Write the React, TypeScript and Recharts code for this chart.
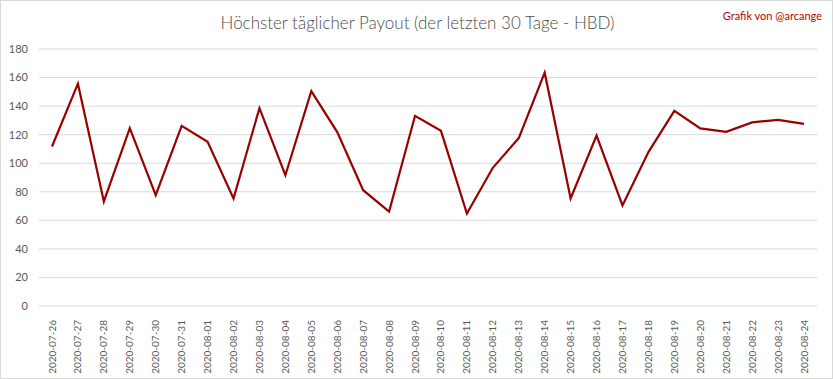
import { LineChart, Line, XAxis, YAxis, CartesianGrid } from 'recharts'

const dates = [
  '2020-07-26', '2020-07-27', '2020-07-28', '2020-07-29', '2020-07-30', '2020-07-31',
  '2020-08-01', '2020-08-02', '2020-08-03', '2020-08-04', '2020-08-05', '2020-08-06',
  '2020-08-07', '2020-08-08', '2020-08-09', '2020-08-10', '2020-08-11', '2020-08-12',
  '2020-08-13', '2020-08-14', '2020-08-15', '2020-08-16', '2020-08-17', '2020-08-18',
  '2020-08-19', '2020-08-20', '2020-08-21', '2020-08-22', '2020-08-23', '2020-08-24',
]

const payouts = [
  111.7, 155.7, 73.2, 124.6, 77.6, 126.2,
  115.0, 75.3, 138.6, 91.6, 150.5, 121.8,
  81.1, 66.2, 133.2, 122.7, 64.7, 96.8,
  117.6, 163.4, 75.3, 119.4, 70.4, 107.8,
  136.7, 124.4, 122.0, 128.6, 130.4, 127.6,
]

const yTicks = [0, 20, 40, 60, 80, 100, 120, 140, 160, 180]

const data = dates.map((date, i) => ({ date, value: payouts[i] }))

const font = 'Lato, "Open Sans", sans-serif'

function DateTick(props: any) {
  const { x, y, payload } = props
  return (
    <text
      x={x}
      y={y + 6}
      transform={`rotate(-90, ${x}, ${y + 6})`}
      textAnchor="end"
      dy="0.35em"
      fill="#595959"
      fontSize={10}
      fontFamily={font}
    >
      {payload.value}
    </text>
  )
}

export default function App() {
  return (
    <div
      style={{
        position: 'absolute',
        left: 0,
        top: 0,
        width: 833,
        height: 379,
        boxSizing: 'border-box',
        border: '1px solid #d9d9d9',
        background: '#fff',
        fontFamily: font,
      }}
    >
      <div
        style={{
          position: 'absolute',
          top: 11,
          left: 0,
          width: 833,
          textAlign: 'center',
          fontSize: 17,
          fontWeight: 300,
          color: '#4d4d4d',
        }}
      >
        Höchster täglicher Payout (der letzten 30 Tage - HBD)
      </div>
      <div
        style={{
          position: 'absolute',
          top: 8,
          right: 10,
          fontSize: 11,
          color: '#c00000',
        }}
      >
        Grafik von @arcange
      </div>
      <div style={{ position: 'absolute', left: -1, top: -1 }}>
        <LineChart
          width={833}
          height={379}
          data={data}
          margin={{ top: 49, right: 16, bottom: 0, left: 0 }}
        >
          <CartesianGrid vertical={false} stroke="#d9d9d9" />
          <XAxis
            dataKey="date"
            interval={0}
            height={73}
            padding={{ left: 13, right: 13 }}
            tickLine={false}
            axisLine={false}
            tick={<DateTick />}
          />
          <YAxis
            width={39}
            domain={[0, 180]}
            ticks={yTicks}
            tickLine={false}
            axisLine={false}
            tickSize={0}
            tickMargin={11}
            tick={{ fill: '#595959', fontSize: 11, fontFamily: font }}
          />
          <Line
            type="linear"
            dataKey="value"
            stroke="#990000"
            strokeWidth={2.2}
            dot={false}
            isAnimationActive={false}
          />
        </LineChart>
      </div>
    </div>
  )
}
